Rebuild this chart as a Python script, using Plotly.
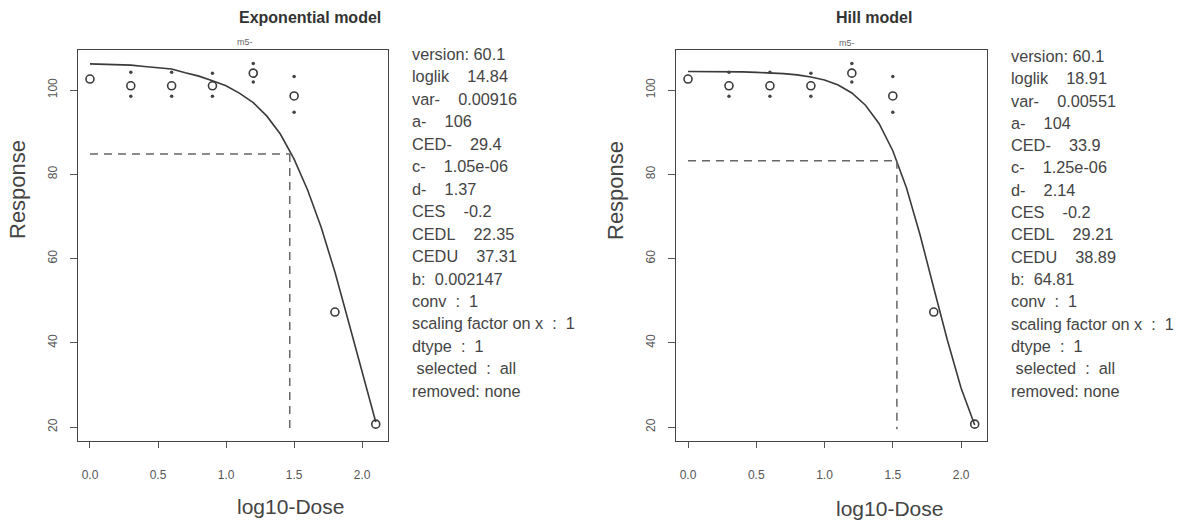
import plotly.graph_objects as go

# ---------------- data ----------------
log_dose = [0.0, 0.3, 0.6, 0.9, 1.2, 1.5, 1.8, 2.1]
response = [102.6, 101.0, 101.0, 101.0, 104.0, 98.6, 47.3, 20.7]
ci_upper = [None, 104.2, 104.2, 104.0, 106.3, 103.2, None, None]
ci_lower = [None, 98.5, 98.5, 98.5, 101.9, 94.7, None, None]

curve_x = [0.0, 0.1, 0.2, 0.3, 0.4, 0.5, 0.6, 0.7, 0.8, 0.9, 1.0,
           1.1, 1.2, 1.3, 1.4, 1.5, 1.6, 1.7, 1.8, 1.9, 2.0, 2.1]
exp_curve = [106.2, 106.1, 106.0, 105.9, 105.6, 105.3, 105.0, 104.1, 103.3, 102.2, 101.0,
             99.2, 97.0, 93.8, 89.5, 83.6, 76.2, 67.3, 56.8, 45.0, 32.8, 21.2]
hill_curve = [104.4, 104.4, 104.4, 104.3, 104.3, 104.2, 104.1, 103.9, 103.6, 103.1, 102.4,
              101.2, 99.3, 96.4, 92.0, 85.6, 76.8, 65.6, 53.0, 40.6, 29.3, 20.5]

exp_ced = 1.468     # log10(29.4)
exp_ces_level = 84.8
hill_ced = 1.530    # log10(33.9)
hill_ces_level = 83.2
ced_line_bottom = 19.5
ced_line_start = 0.0

x_tickvals = [0.0, 0.5, 1.0, 1.5, 2.0]
x_ticktext = ["0.0", "0.5", "1.0", "1.5", "2.0"]
y_tickvals = [20, 40, 60, 80, 100]

exp_info = ["version: 60.1", "loglik    14.84", "var-    0.00916", "a-    106",
            "CED-    29.4", "c-    1.05e-06", "d-    1.37", "CES    -0.2",
            "CEDL    22.35", "CEDU    37.31", "b:  0.002147", "conv  :  1",
            "scaling factor on x  :  1", "dtype  :  1", " selected  :  all",
            "removed: none"]
hill_info = ["version: 60.1", "loglik    18.91", "var-    0.00551", "a-    104",
             "CED-    33.9", "c-    1.25e-06", "d-    2.14", "CES    -0.2",
             "CEDL    29.21", "CEDU    38.89", "b:  64.81", "conv  :  1",
             "scaling factor on x  :  1", "dtype  :  1", " selected  :  all",
             "removed: none"]

# ---------------- figure ----------------
W, H = 1188, 521
FONT = "Liberation Sans"
INK = "#3a3a3a"
GREY = "#555555"

fig = go.Figure()

panels = [
    dict(xa="x", ya="y", curve=exp_curve, ced=exp_ced, ces=exp_ces_level),
    dict(xa="x2", ya="y2", curve=hill_curve, ced=hill_ced, ces=hill_ces_level),
]

for p in panels:
    fig.add_trace(go.Scatter(x=curve_x, y=p["curve"], mode="lines",
                             line=dict(color=INK, width=1.6),
                             xaxis=p["xa"], yaxis=p["ya"], showlegend=False))
    fig.add_trace(go.Scatter(x=[ced_line_start, p["ced"]], y=[p["ces"], p["ces"]],
                             mode="lines", line=dict(color="#666666", width=1.5, dash="8px,6px"),
                             xaxis=p["xa"], yaxis=p["ya"], showlegend=False))
    fig.add_trace(go.Scatter(x=[p["ced"], p["ced"]], y=[p["ces"], ced_line_bottom],
                             mode="lines", line=dict(color="#666666", width=1.5, dash="8px,6px"),
                             xaxis=p["xa"], yaxis=p["ya"], showlegend=False))
    fig.add_trace(go.Scatter(x=log_dose + log_dose, y=ci_upper + ci_lower, mode="markers",
                             marker=dict(color="#444444", size=3.5, symbol="circle"),
                             xaxis=p["xa"], yaxis=p["ya"], showlegend=False))
    fig.add_trace(go.Scatter(x=log_dose, y=response, mode="markers",
                             marker=dict(color=INK, size=8, symbol="circle-open",
                                         line=dict(color=INK, width=1.6)),
                             xaxis=p["xa"], yaxis=p["ya"], showlegend=False))

y_dom = [(H - 441) / H, (H - 50) / H]

def xaxis(dom):
    return dict(domain=dom, range=[-0.088, 2.19], tickvals=x_tickvals, ticktext=x_ticktext,
                ticks="outside", ticklen=6, tickwidth=1.3, tickcolor=GREY,
                showline=True, linecolor="#444444", linewidth=1.3, mirror=True,
                showgrid=False, zeroline=False, ticklabelstandoff=16,
                tickfont=dict(family=FONT, size=12, color=GREY))

def yaxis(anchor):
    return dict(domain=y_dom, anchor=anchor, range=[16.7, 109.5], tickvals=y_tickvals,
                ticks="outside", ticklen=7, tickwidth=1.3, tickcolor=GREY, tickangle=-90,
                showline=True, linecolor="#444444", linewidth=1.3, mirror=True,
                showgrid=False, zeroline=False, ticklabelstandoff=8,
                tickfont=dict(family=FONT, size=12, color=GREY))

ann = []
def text(x, y, s, size, color=INK, bold=False, angle=0, xanchor="center"):
    ann.append(dict(x=x / W, y=1 - y / H, xref="paper", yref="paper", text=("<b>%s</b>" % s) if bold else s,
                    showarrow=False, xanchor=xanchor, yanchor="middle", textangle=angle,
                    font=dict(family=FONT, size=size, color=color)))

# titles and labels
text(310, 17, "Exponential model", 16, color="#333333", bold=True)
text(874, 17, "Hill model", 16, color="#333333", bold=True)
text(245, 42, "m5-", 9, color="#666666")
text(847, 43, "m5-", 9, color="#666666")
text(290, 506, "log10-Dose", 21, color="#444444")
text(889, 508, "log10-Dose", 21, color="#444444")
text(17, 190, "Response", 22, color="#444444", angle=-90)
text(615, 190, "Response", 22, color="#444444", angle=-90)

for i, s in enumerate(exp_info):
    text(410, 54 + i * 22.45, s.replace("  ", "\u00a0\u00a0"), 16.3, color="#444444", xanchor="left")
for i, s in enumerate(hill_info):
    text(1009, 56 + i * 22.3, s.replace("  ", "\u00a0\u00a0"), 16.3, color="#444444", xanchor="left")

fig.update_layout(
    width=W, height=H, margin=dict(l=0, r=0, t=0, b=0),
    paper_bgcolor="white", plot_bgcolor="white",
    xaxis=xaxis([78 / W, 388 / W]),
    yaxis=yaxis("x"),
    xaxis2=dict(xaxis([676 / W, 987 / W]), anchor="y2"),
    yaxis2=yaxis("x2"),
    annotations=ann,
    showlegend=False,
)
fig.update_layout(xaxis=dict(anchor="y"))

fig.write_html("out.html")
